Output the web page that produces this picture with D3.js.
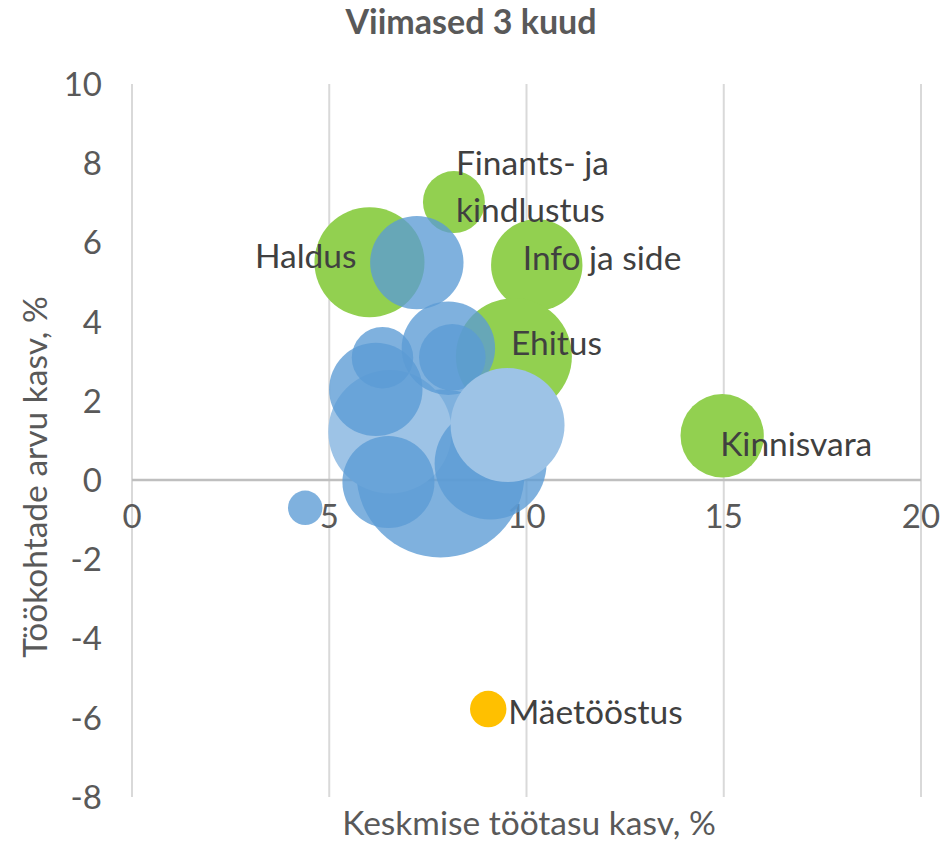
<!DOCTYPE html>
<html>
<head>
<meta charset="utf-8">
<script src="https://cdn.jsdelivr.net/npm/d3@7"></script>
<style>
  body { margin: 0; background: #fff; }
  text { font-family: Lato, "Open Sans", sans-serif; }
</style>
</head>
<body>
<svg id="chart"></svg>
<script>
var width = 942;
var height = 845;
var margin = { top: 84, right: 21, bottom: 48, left: 132 };

// labelled sectors (green), wage growth %, job growth %, bubble size
var greenNames = ["Haldus", "Finants- ja kindlustus", "Info ja side", "Ehitus", "Kinnisvara"];
var greenWage = [6.02, 8.16, 10.26, 9.68, 14.96];
var greenJobs = [5.5, 7.02, 5.43, 3.13, 1.12];
var greenSize = [42.9, 13.6, 29.6, 47.7, 24.6];

var orangeNames = ["Mäetööstus"];
var orangeWage = [9.03];
var orangeJobs = [-5.78];
var orangeSize = [4.7];

// other sectors (blue), drawn in this order
var blueWage = [7.82, 6.54, 6.5, 6.18, 6.35, 7.22, 8.02, 8.12, 9.09, 9.52, 4.39];
var blueJobs = [0.17, 1.22, -0.05, 2.29, 3.09, 5.49, 3.33, 3.10, 0.42, 1.39, -0.70];
var blueSize = [100, 54, 30, 30.9, 13.4, 30.9, 30.9, 15.7, 44.4, 46, 4.2];
var blueGroup = ["a", "b", "a", "a", "a", "a", "a", "a", "a", "b", "a"];

var xTicks = [0, 5, 10, 15, 20];
var yTicks = [-8, -6, -4, -2, 0, 2, 4, 6, 8, 10];

var x = d3.scaleLinear().domain([0, 20]).range([margin.left, width - margin.right]);
var y = d3.scaleLinear().domain([-8, 10]).range([height - margin.bottom, margin.top]);
var r = d3.scaleSqrt().domain([0, 100]).range([0, 84]);

var svg = d3.select("#chart")
  .attr("width", width)
  .attr("height", height);

// vertical gridlines
svg.append("g")
  .selectAll("line")
  .data(xTicks)
  .enter()
    .append("line")
      .attr("x1", function(d) { return x(d); })
      .attr("x2", function(d) { return x(d); })
      .attr("y1", y(10))
      .attr("y2", y(-8))
      .attr("stroke", "#d9d9d9")
      .attr("stroke-width", 2);

// zero line
svg.append("line")
  .attr("x1", x(0))
  .attr("x2", x(20))
  .attr("y1", y(0))
  .attr("y2", y(0))
  .attr("stroke", "#bfbfbf")
  .attr("stroke-width", 2.5);

// y tick labels
svg.append("g")
  .selectAll("text")
  .data(yTicks)
  .enter()
    .append("text")
      .attr("x", x(0) - 30)
      .attr("y", function(d) { return y(d); })
      .attr("dy", "0.36em")
      .style("text-anchor", "end")
      .style("font-size", "33px")
      .style("fill", "#595959")
      .text(function(d) { return d; });

// x tick labels, sitting under the zero line
svg.append("g")
  .selectAll("text")
  .data(xTicks)
  .enter()
    .append("text")
      .attr("x", function(d) { return x(d); })
      .attr("y", y(0) + 48)
      .style("text-anchor", "middle")
      .style("font-size", "33px")
      .style("fill", "#595959")
      .text(function(d) { return d; });

var green = greenNames.map(function(n, i) {
  return { name: n, wage: greenWage[i], jobs: greenJobs[i], size: greenSize[i] };
});
var orange = orangeNames.map(function(n, i) {
  return { name: n, wage: orangeWage[i], jobs: orangeJobs[i], size: orangeSize[i] };
});
var blue = blueWage.map(function(w, i) {
  return { wage: w, jobs: blueJobs[i], size: blueSize[i], group: blueGroup[i] };
});

function bubbles(data, fill, opacity) {
  svg.append("g")
    .selectAll("circle")
    .data(data)
    .enter()
      .append("circle")
        .attr("cx", function(d) { return x(d.wage); })
        .attr("cy", function(d) { return y(d.jobs); })
        .attr("r", function(d) { return r(d.size); })
        .attr("fill", fill)
        .attr("fill-opacity", opacity);
}

bubbles(green, "#92d050", 1);
bubbles(orange, "#ffc000", 1);
bubbles(blue,
  function(d) { return d.group == "b" ? "#9dc3e6" : "#5b9bd5"; },
  function(d) { return d.group == "b" ? 1 : 0.78; });

// data labels, nudged like the hand placed ones in the original
var labelPos = {
  "Haldus": { dx: -13, dy: -6, anchor: "end" },
  "Finants- ja kindlustus": { dx: 2, dy: -39, anchor: "start" },
  "Info ja side": { dx: -14, dy: -7, anchor: "start" },
  "Ehitus": { dx: -3, dy: -13, anchor: "start" },
  "Kinnisvara": { dx: -2, dy: 9, anchor: "start" },
  "Mäetööstus": { dx: 20, dy: 3, anchor: "start" }
};

var labels = svg.append("g")
  .selectAll("text")
  .data(green.concat(orange))
  .enter()
    .append("text")
      .attr("x", function(d) { return x(d.wage) + labelPos[d.name].dx; })
      .attr("y", function(d) { return y(d.jobs) + labelPos[d.name].dy; })
      .attr("dy", "0.35em")
      .style("text-anchor", function(d) { return labelPos[d.name].anchor; })
      .style("font-size", "33.5px")
      .style("fill", "#404040");

labels.each(function(d) {
  var t = d3.select(this);
  if (d.name == "Finants- ja kindlustus") {
    t.append("tspan").text("Finants- ja");
    t.append("tspan")
      .attr("x", x(d.wage) + labelPos[d.name].dx)
      .attr("dy", 47)
      .text("kindlustus");
  } else {
    t.text(d.name);
  }
});

svg.append("text")
  .attr("x", width / 2)
  .attr("y", 34)
  .style("text-anchor", "middle")
  .style("font-size", "34px")
  .style("font-weight", "bold")
  .style("fill", "#595959")
  .text("Viimased 3 kuud");

svg.append("text")
  .attr("x", 529)
  .attr("y", 835)
  .style("text-anchor", "middle")
  .style("font-size", "33.5px")
  .style("fill", "#595959")
  .text("Keskmise töötasu kasv, %");

svg.append("text")
  .attr("transform", "rotate(-90)")
  .attr("x", -477)
  .attr("y", 47)
  .style("text-anchor", "middle")
  .style("font-size", "33.5px")
  .style("fill", "#595959")
  .text("Töökohtade arvu kasv, %");
</script>
</body>
</html>
